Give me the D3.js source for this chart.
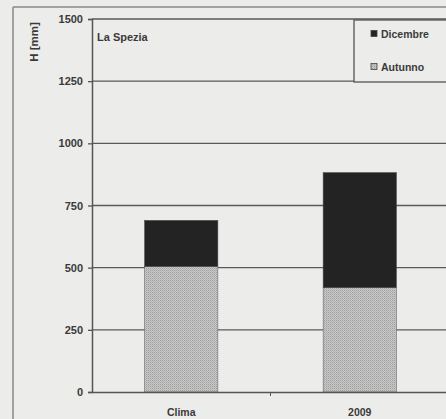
<!DOCTYPE html>
<html><head><meta charset="utf-8">
<script src="https://cdn.jsdelivr.net/npm/d3@7/dist/d3.min.js"></script>
<style>html,body{margin:0;padding:0;background:#ececea;}svg{display:block;}</style>
</head><body>
<script>
const categories = ["Clima", "2009"];
const autunno = [505, 420];
const dicembre = [185, 462];
const yTicks = [0, 250, 500, 750, 1000, 1250, 1500];
const seriesNames = ["Dicembre", "Autunno"];

const W = 446, H = 419;
const svg = d3.select("body").append("svg").attr("width", W).attr("height", H);
const font = "'Liberation Sans', Arial, sans-serif";

const defs = svg.append("defs");
const pat = defs.append("pattern").attr("id", "dots").attr("width", 2).attr("height", 2)
  .attr("patternUnits", "userSpaceOnUse");
pat.append("rect").attr("width", 2).attr("height", 2).attr("fill", "#c8c8c8");
pat.append("rect").attr("width", 1).attr("height", 1).attr("fill", "#9e9e9e");
pat.append("rect").attr("x", 1).attr("y", 1).attr("width", 1).attr("height", 1).attr("fill", "#b4b4b4");

// outer frame
svg.append("line").attr("x1", 13).attr("x2", 13).attr("y1", 7).attr("y2", H)
  .attr("stroke", "#888").attr("stroke-width", 1.5);
svg.append("line").attr("x1", 13).attr("x2", W).attr("y1", 7).attr("y2", 7)
  .attr("stroke", "#888").attr("stroke-width", 1.5);

const x0 = 92, x1 = 449, yTop = 19, yBot = 392;
const x = d3.scaleBand().domain(categories).range([x0, x1]).paddingInner(0.59).paddingOuter(0.295);
const y = d3.scaleLinear().domain([0, 1500]).range([yBot, yTop]);

// gridlines
svg.append("g").selectAll("line").data(yTicks.filter(d => d > 0)).join("line")
  .attr("x1", x0).attr("x2", x1).attr("y1", d => y(d)).attr("y2", d => y(d))
  .attr("stroke", "#5a5a5a").attr("stroke-width", 1.3);

// bars
const data = categories.map((c, i) => ({c, a: autunno[i], d: dicembre[i]}));
svg.append("g").selectAll("rect").data(data).join("rect")
  .attr("x", d => x(d.c)).attr("width", x.bandwidth())
  .attr("y", d => y(d.a)).attr("height", d => y(0) - y(d.a))
  .attr("fill", "url(#dots)").attr("stroke", "#666").attr("stroke-width", 0.6);
svg.append("g").selectAll("rect").data(data).join("rect")
  .attr("x", d => x(d.c)).attr("width", x.bandwidth())
  .attr("y", d => y(d.a + d.d)).attr("height", d => y(d.a) - y(d.a + d.d))
  .attr("fill", "#232323").attr("stroke", "#444").attr("stroke-width", 0.6);

// y axis
const yAxis = d3.axisLeft(y).tickValues(yTicks).tickFormat(d3.format("d")).tickSize(4).tickPadding(5);
const gy = svg.append("g").attr("transform", `translate(${x0},0)`).call(yAxis);
gy.select(".domain").attr("stroke", "#555").attr("stroke-width", 1.5);
gy.selectAll(".tick line").attr("stroke", "#555").attr("stroke-width", 1.3);
gy.selectAll("text").attr("font-family", font).attr("font-size", "11px")
  .attr("font-weight", "bold").attr("fill", "#3a3a3a");

// x axis
const xAxis = d3.axisBottom(x).tickSize(0).tickPadding(17);
const gx = svg.append("g").attr("transform", `translate(0,${yBot})`).call(xAxis);
gx.select(".domain").attr("stroke", "#555").attr("stroke-width", 1.5);
gx.selectAll("text").attr("font-family", font).attr("font-size", "10.5px")
  .attr("font-weight", "bold").attr("fill", "#3a3a3a");
// category boundary tick
gx.append("line").attr("x1", (x0 + x1) / 2).attr("x2", (x0 + x1) / 2).attr("y1", 0).attr("y2", 4)
  .attr("stroke", "#555").attr("stroke-width", 1);

// y label
svg.append("text").attr("transform", "translate(38,42) rotate(-90)")
  .attr("text-anchor", "middle").attr("font-family", font).attr("font-size", "11.5px")
  .attr("font-weight", "bold").attr("fill", "#3a3a3a").text("H [mm]");

// title inside
svg.append("text").attr("x", 97).attr("y", 41).attr("font-family", font)
  .attr("font-size", "11px").attr("font-weight", "bold").attr("fill", "#3a3a3a").text("La Spezia");

// legend
const lg = svg.append("g");
lg.append("rect").attr("x", 354).attr("y", 20).attr("width", 100).attr("height", 62)
  .attr("fill", "#ececea").attr("stroke", "#555").attr("stroke-width", 1.3);
const legY = [34, 67];
seriesNames.forEach((n, i) => {
  lg.append("rect").attr("x", 371).attr("y", legY[i] - 3.5).attr("width", 6).attr("height", 6)
    .attr("fill", i === 0 ? "#232323" : "url(#dots)").attr("stroke", "#444").attr("stroke-width", 0.8);
  lg.append("text").attr("x", 381).attr("y", legY[i] + 3.5).attr("font-family", font)
    .attr("font-size", "10.5px").attr("font-weight", "bold").attr("fill", "#3a3a3a").text(n);
});
</script>
</body></html>
